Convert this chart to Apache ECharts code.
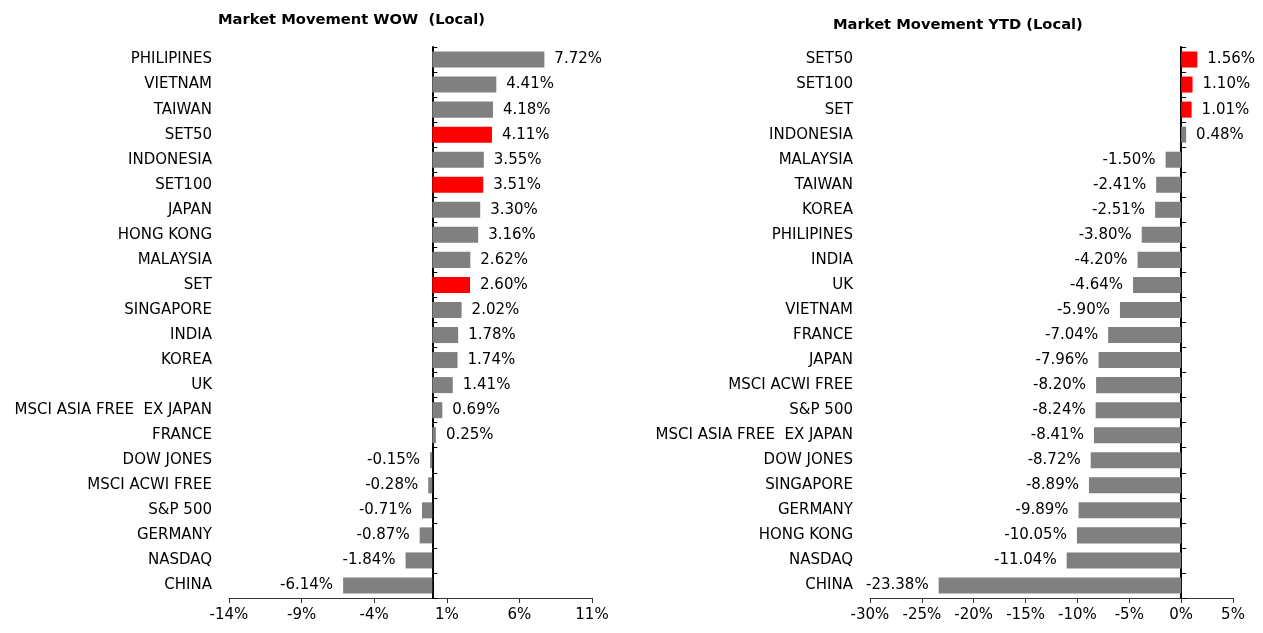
<!DOCTYPE html>
<html>
<head>
<meta charset="utf-8">
<script src="https://cdn.jsdelivr.net/npm/echarts@6/dist/echarts.min.js"></script>
<style>
	html, body { margin: 0; padding: 0; background: #fff; }
	#chart { width: 1263px; height: 633px; }
</style>
</head>
<body>
<div id="chart"></div>
<script>
// weekly movement (local currency)
const wowNames = ['PHILIPINES', 'VIETNAM', 'TAIWAN', 'SET50', 'INDONESIA', 'SET100', 'JAPAN', 'HONG KONG',
	'MALAYSIA', 'SET', 'SINGAPORE', 'INDIA', 'KOREA', 'UK', 'MSCI ASIA FREE  EX JAPAN', 'FRANCE',
	'DOW JONES', 'MSCI ACWI FREE', 'S&P 500', 'GERMANY', 'NASDAQ', 'CHINA']
const wowValues = [7.72, 4.41, 4.18, 4.11, 3.55, 3.51, 3.30, 3.16, 2.62, 2.60, 2.02, 1.78, 1.74, 1.41, 0.69, 0.25,
	-0.15, -0.28, -0.71, -0.87, -1.84, -6.14]

// year to date movement (local currency)
const ytdNames = ['SET50', 'SET100', 'SET', 'INDONESIA', 'MALAYSIA', 'TAIWAN', 'KOREA', 'PHILIPINES', 'INDIA', 'UK',
	'VIETNAM', 'FRANCE', 'JAPAN', 'MSCI ACWI FREE', 'S&P 500', 'MSCI ASIA FREE  EX JAPAN', 'DOW JONES',
	'SINGAPORE', 'GERMANY', 'HONG KONG', 'NASDAQ', 'CHINA']
const ytdValues = [1.56, 1.10, 1.01, 0.48, -1.50, -2.41, -2.51, -3.80, -4.20, -4.64, -5.90, -7.04, -7.96, -8.20,
	-8.24, -8.41, -8.72, -8.89, -9.89, -10.05, -11.04, -23.38]

const thaiIdx = ['SET', 'SET50', 'SET100']
const FONT = 'Tahoma, "DejaVu Sans", sans-serif'

const toData = (names, values) => values.map((v, i) => ({
	value: v,
	itemStyle: { color: thaiIdx.includes(names[i]) ? '#ff0000' : '#808080' },
	label: { position: v < 0 ? 'left' : 'right' }
}))

const xAxisFor = (gridIndex, min, max) => ({
	type: 'value', gridIndex, min, max, interval: 5,
	splitLine: { show: false },
	axisLine: { show: true, onZero: false, lineStyle: { color: '#333', width: 1 } },
	axisTick: { show: true, length: 5, lineStyle: { color: '#333' } },
	axisLabel: { color: '#000', fontSize: 15, fontFamily: FONT, margin: 10, formatter: '{value}%' }
})

const yAxesFor = (gridIndex, names) => [
	{
		type: 'category', gridIndex, data: names, inverse: true,
		axisLine: { show: false, onZero: false },
		axisTick: { show: false },
		axisLabel: { color: '#000', fontSize: 15, fontFamily: FONT, margin: 17 }
	},
	{
		type: 'category', gridIndex, data: names, inverse: true,
		axisLine: { show: true, onZero: true, lineStyle: { color: '#000', width: 2 } },
		axisTick: { show: true, length: 5, inside: false, lineStyle: { color: '#000' } },
		axisLabel: { show: false }
	}
]

const seriesFor = (idx, names, values) => ({
	type: 'bar', xAxisIndex: idx, yAxisIndex: idx * 2 + 1,
	data: toData(names, values),
	barCategoryGap: '36%',
	label: {
		show: true, distance: 10, color: '#000', fontSize: 15, fontFamily: FONT,
		formatter: p => p.value.toFixed(2) + '%'
	}
})

const chart = echarts.init(document.getElementById('chart'))
chart.setOption({
	backgroundColor: '#fff',
	animation: false,
	title: [
		{ text: 'Market Movement WOW  (Local)', left: 213, top: 8,
			textStyle: { fontSize: 14.7, fontWeight: 'bold', fontFamily: FONT, color: '#000' } },
		{ text: 'Market Movement YTD (Local)', left: 828, top: 13,
			textStyle: { fontSize: 14.7, fontWeight: 'bold', fontFamily: FONT, color: '#000' } }
	],
	grid: [
		{ left: 229, right: 671, top: 47, bottom: 35 },
		{ left: 870, right: 30, top: 47, bottom: 35 }
	],
	xAxis: [xAxisFor(0, -14, 11), xAxisFor(1, -30, 5)],
	yAxis: [...yAxesFor(0, wowNames), ...yAxesFor(1, ytdNames)],
	series: [seriesFor(0, wowNames, wowValues), seriesFor(1, ytdNames, ytdValues)]
})
</script>
</body>
</html>
